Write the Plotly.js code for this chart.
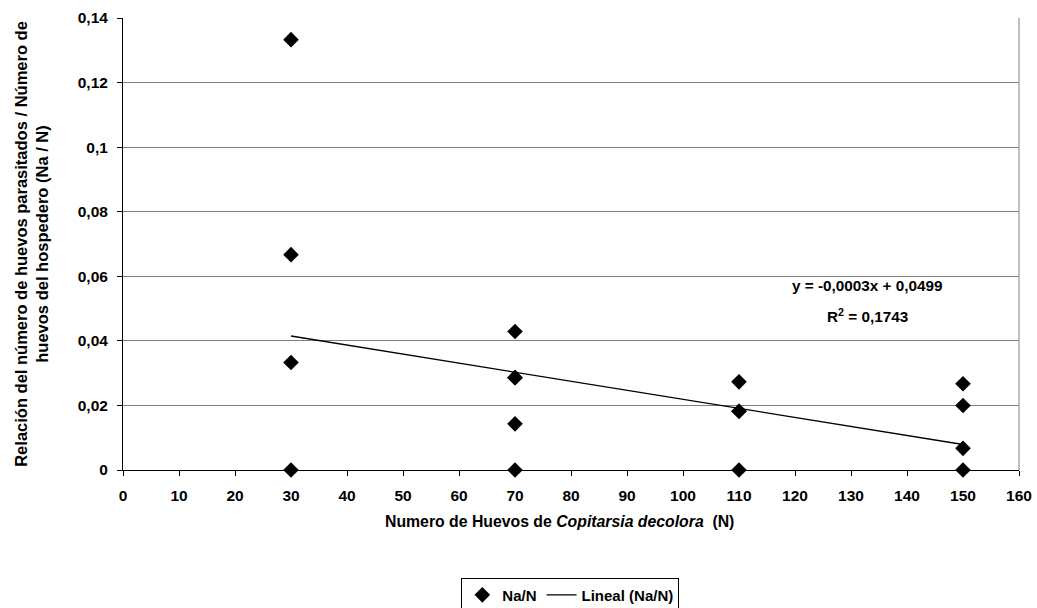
<!DOCTYPE html>
<html>
<head>
<meta charset="utf-8">
<script src="https://cdn.plot.ly/plotly-3.0.1.min.js"></script>
<style>html,body{margin:0;padding:0;background:#fff;}#chart{width:1037px;height:608px;}</style>
</head>
<body>
<div id="chart"></div>
<script>
// Data
const eggsN = [30, 30, 30, 30, 70, 70, 70, 70, 70, 110, 110, 110, 110, 150, 150, 150, 150];
const ratioNaN = [0.1333, 0.0667, 0.0333, 0, 0.0429, 0.0286, 0.0286, 0.0143, 0, 0.0273, 0.0182, 0.0182, 0, 0.0267, 0.02, 0.0067, 0];
// Fitted trend (as drawn in the reference)
const trendX = [30, 150];
const trendSlope = -0.00028;
const trendIntercept = 0.0499;
const trendY = trendX.map(x => trendIntercept + trendSlope * x);
// Tick labels and texts
const yTickVals = [0, 0.02, 0.04, 0.06, 0.08, 0.1, 0.12, 0.14];
const yTickText = ["0", "0,02", "0,04", "0,06", "0,08", "0,1", "0,12", "0,14"];
const xTickVals = [0, 10, 20, 30, 40, 50, 60, 70, 80, 90, 100, 110, 120, 130, 140, 150, 160];
const xTitle = "Numero de Huevos de <i>Copitarsia decolora</i>  (N)";
const yTitle = "Relación del número de huevos parasitados / Número de<br>huevos del hospedero (Na / N)";
const equationText = "y = -0,0003x + 0,0499";
const r2Text = "R<sup>2</sup> = 0,1743";

const fam = "Liberation Sans, Arial, sans-serif";

const traces = [
  {
    x: eggsN, y: ratioNaN, type: "scatter", mode: "markers", name: "<b>Na/N</b>",
    marker: {symbol: "diamond", size: 12, color: "#000"},
    cliponaxis: false
  },
  {
    x: trendX, y: trendY, type: "scatter", mode: "lines", name: "<b>Lineal (Na/N)</b>",
    line: {color: "#000", width: 1.3}
  }
];

const layout = {
  width: 1037, height: 608,
  margin: {l: 123, r: 18, t: 18, b: 138},
  paper_bgcolor: "#fff", plot_bgcolor: "#fff",
  font: {family: fam, size: 15, color: "#000"},
  showlegend: true,
  legend: {
    orientation: "h", x: 0.55, xanchor: "center", xref: "container",
    yref: "container", y: 0.05, yanchor: "top",
    bordercolor: "#000", borderwidth: 1, font: {family: fam, size: 15, color: "#000"},
    itemwidth: 30, tracegroupgap: 0
  },
  xaxis: {
    range: [0, 160], tickvals: xTickVals, ticktext: xTickVals.map(String),
    showgrid: false, zeroline: false,
    showline: true, linecolor: "#000", linewidth: 1,
    ticks: "outside", ticklen: 5, tickcolor: "#000", ticklabelstandoff: 6,
    tickfont: {family: fam, size: 15.5, color: "#000", weight: "bold"}
  },
  yaxis: {
    range: [0, 0.14], tickvals: yTickVals, ticktext: yTickText,
    showgrid: true, gridcolor: "#808080", gridwidth: 1, zeroline: false,
    showline: true, linecolor: "#000", linewidth: 1,
    ticks: "outside", ticklen: 5, tickcolor: "#000", ticklabelstandoff: 6,
    tickfont: {family: fam, size: 15.5, color: "#000", weight: "bold"},
    title: {text: "<b>" + yTitle + "</b>", font: {family: fam, size: 16.5, color: "#000"}, standoff: 24}
  },
  shapes: [
    {type: "line", xref: "paper", yref: "paper", x0: 1, x1: 1, y0: 0, y1: 1, line: {color: "#808080", width: 1}}
  ],
  annotations: [
    {xref: "paper", yref: "paper", x: 0.4877, y: -0.113, xanchor: "center", yanchor: "middle", text: "<b>" + xTitle + "</b>", showarrow: false, font: {family: fam, size: 15.8, color: "#000"}},
    {xref: "x", yref: "y", x: 133, y: 0.0571, text: "<b>" + equationText + "</b>", showarrow: false, font: {family: fam, size: 15.3, color: "#000"}},
    {xref: "x", yref: "y", x: 133, y: 0.0478, text: "<b>" + r2Text + "</b>", showarrow: false, font: {family: fam, size: 15.3, color: "#000"}}
  ]
};

Plotly.newPlot("chart", traces, layout, {displayModeBar: false, staticPlot: true});
</script>
</body>
</html>
